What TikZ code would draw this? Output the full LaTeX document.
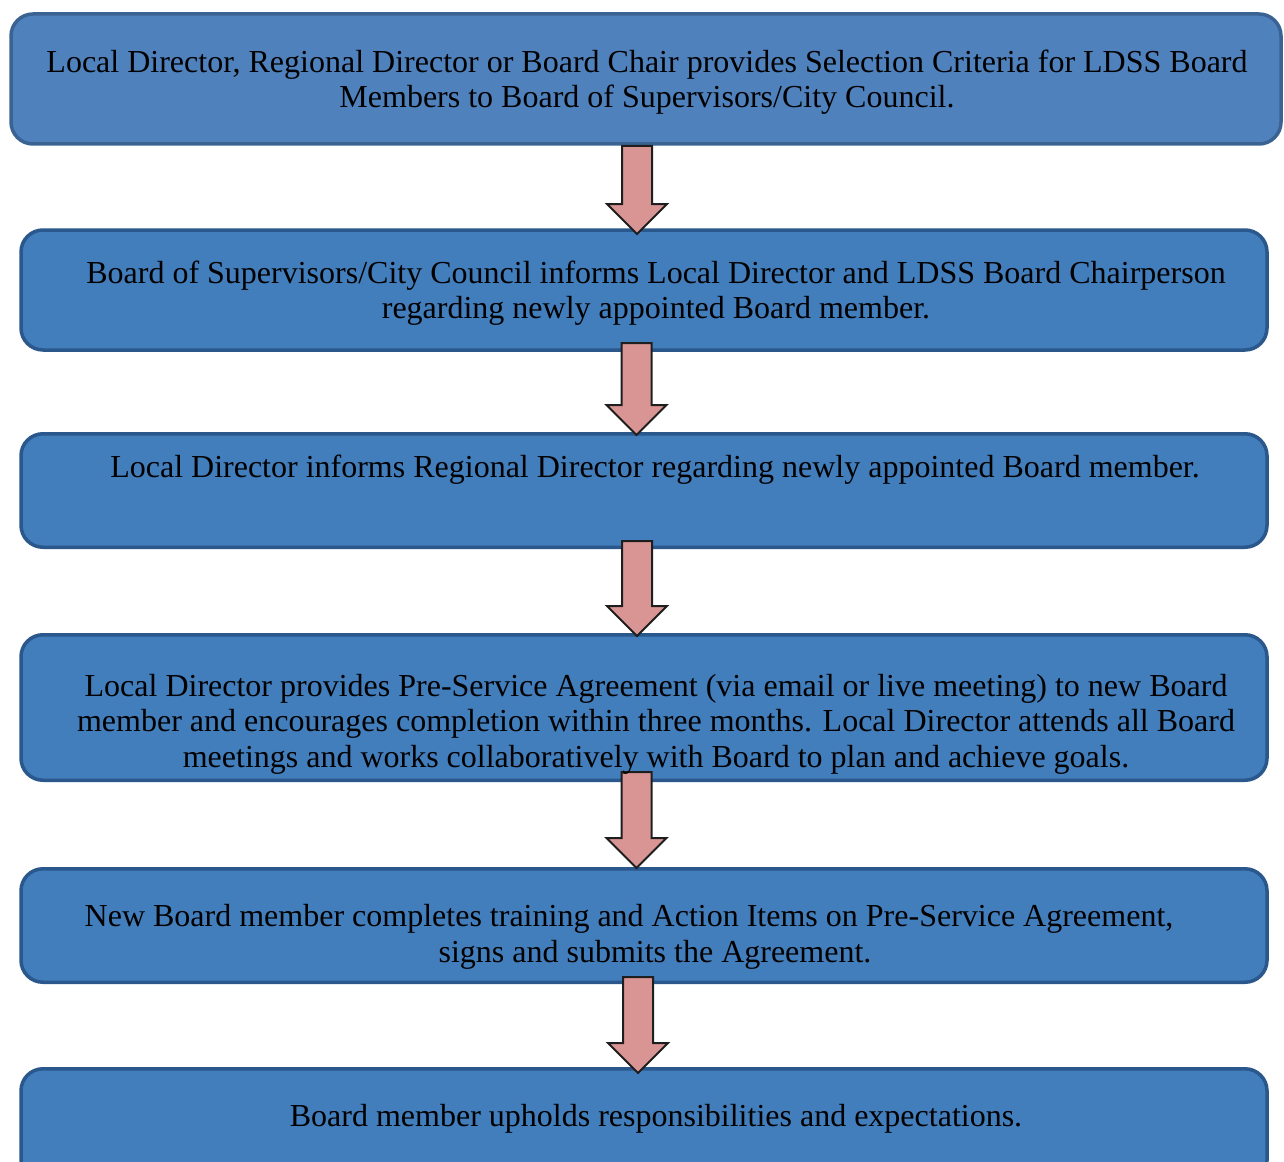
\documentclass[tikz,border=0pt]{standalone}
\usepackage{fontspec}
\setmainfont{Liberation Serif}
\usetikzlibrary{calc}
\definecolor{fillA}{RGB}{79,129,189}
\definecolor{lineA}{RGB}{58,99,148}
\definecolor{fillB}{RGB}{66,125,188}
\definecolor{lineB}{RGB}{42,88,140}
\definecolor{arrfill}{RGB}{217,149,148}
\definecolor{arrline}{RGB}{30,30,30}
\tikzset{
  boxA/.style={draw=lineA, fill=fillA, line width=3.5pt, rounded corners=22pt, inner sep=0pt},
  boxB/.style={draw=lineB, fill=fillB, line width=3.5pt, rounded corners=22pt, inner sep=0pt},
  txt/.style={align=center, inner sep=0pt, font=\fontsize{32}{35.5}\selectfont, text=black},
  barrow/.style={draw=arrline, fill=arrfill, line width=2pt, line join=miter}
}
\newcommand\blockarrow[2]{%
  \draw[barrow] ($(#1)+(-15,0)$) -- ($(#2)+(-15,-30)$) -- ($(#2)+(-30,-30)$) -- (#2)
    -- ($(#2)+(30,-30)$) -- ($(#2)+(15,-30)$) -- ($(#1)+(15,0)$) -- cycle;}
\begin{document}
\begin{tikzpicture}[x=1pt,y=-1pt]
\useasboundingbox (0,0) rectangle (1284,1161);
\clip (0,0) rectangle (1284,1161);
% boxes
\node[boxA, minimum width=1270pt, minimum height=130pt] (b1) at (646,79) {};
\node[boxB, minimum width=1246pt, minimum height=120pt] (b2) at (644,290) {};
\node[boxB, minimum width=1246pt, minimum height=113.5pt] (b3) at (644,490.5) {};
\node[boxB, minimum width=1246pt, minimum height=145.5pt] (b4) at (644,707.5) {};
\node[boxB, minimum width=1246pt, minimum height=113.5pt] (b5) at (644,925.5) {};
\node[boxB, minimum width=1246pt, minimum height=113.5pt] (b6) at (644,1125.5) {};
% arrows
\coordinate (s1) at (637,146);  \coordinate (t1) at (637,234);
\coordinate (s2) at (636.5,343);\coordinate (t2) at (636.5,435);
\coordinate (s3) at (637,541);  \coordinate (t3) at (637,636);
\coordinate (s4) at (636.5,772);\coordinate (t4) at (636.5,868);
\coordinate (s5) at (638,977);  \coordinate (t5) at (638,1073);
\blockarrow{s1}{t1}
\blockarrow{s2}{t2}
\blockarrow{s3}{t3}
\blockarrow{s4}{t4}
\blockarrow{s5}{t5}
% texts
\node[txt] (x1) at (647,82) {Local Director, Regional Director or Board Chair provides Selection Criteria for LDSS Board\\Members to Board of Supervisors/City Council.};
\node[txt] (x2) at (656,293) {Board of Supervisors/City Council informs Local Director and LDSS Board Chairperson\\regarding newly appointed Board member.};
\node[txt] (x3) at (655,470) {Local Director informs Regional Director regarding newly appointed Board member.};
\node[txt] (x4) at (656,724) {Local Director provides Pre-Service Agreement (via email or live meeting) to new Board\\member and encourages completion within three months. Local Director attends all Board\\meetings and works collaboratively with Board to plan and achieve goals.};
\node[txt] (x5) at (655,937) {New Board member completes training and Action Items on Pre-Service Agreement,\hspace*{52pt}\\signs and submits the Agreement.};
\node[txt] (x6) at (656,1119) {Board member upholds responsibilities and expectations.};
\end{tikzpicture}
\end{document}
